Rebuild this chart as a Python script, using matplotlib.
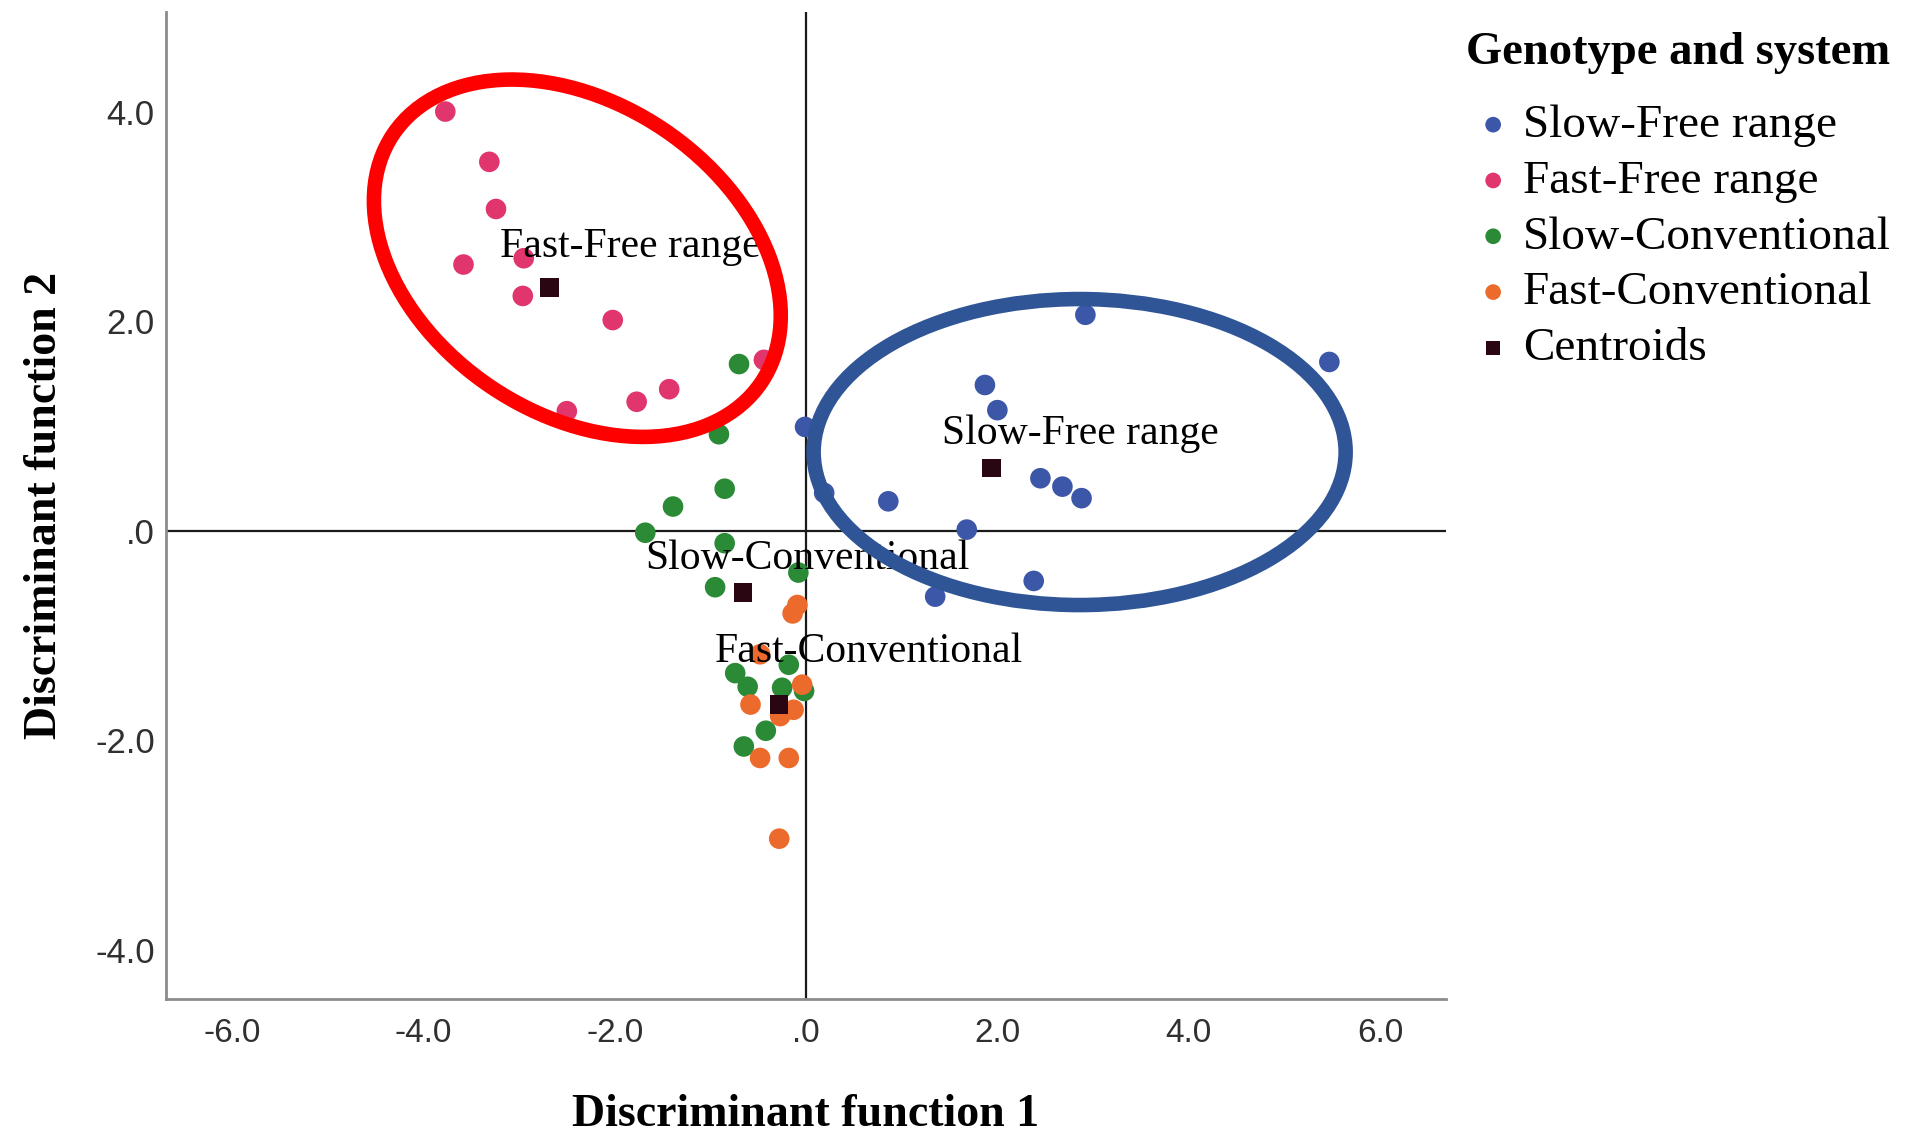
import matplotlib
matplotlib.use("Agg")
import matplotlib.pyplot as plt
import matplotlib.transforms as mtransforms
from matplotlib.patches import Ellipse

# Discriminant scores (function 1, function 2) per genotype/system group
slow_free_x = [2.92, 5.47, 1.87, 2.00, -0.01, 0.19, 0.86, 2.45, 2.68, 2.88, 1.68, 2.38, 1.35]
slow_free_y = [2.06, 1.61, 1.39, 1.15, 0.99, 0.36, 0.28, 0.50, 0.42, 0.31, 0.01, -0.48, -0.63]

fast_free_x = [-3.77, -3.31, -3.24, -3.58, -2.95, -2.96, -2.02, -1.43, -1.77, -2.50, -0.44]
fast_free_y = [4.00, 3.52, 3.07, 2.54, 2.60, 2.24, 2.01, 1.35, 1.23, 1.14, 1.63]

slow_conv_x = [-0.70, -0.91, -0.85, -1.39, -1.68, -0.85, -0.95, -0.08, -0.18, -0.74,
               -0.61, -0.25, -0.02, -0.42, -0.65]
slow_conv_y = [1.59, 0.92, 0.40, 0.23, -0.02, -0.12, -0.54, -0.40, -1.28, -1.36,
               -1.49, -1.50, -1.53, -1.91, -2.06]

fast_conv_x = [-0.09, -0.14, -0.48, -0.04, -0.58, -0.13, -0.27, -0.48, -0.18, -0.28]
fast_conv_y = [-0.71, -0.79, -1.18, -1.47, -1.66, -1.71, -1.77, -2.17, -2.17, -2.94]

group_names = ['Slow-Free range', 'Fast-Free range', 'Slow-Conventional', 'Fast-Conventional']
centroid_x = [1.94, -2.68, -0.66, -0.28]
centroid_y = [0.60, 2.32, -0.59, -1.66]

x_ticks = [-6, -4, -2, 0, 2, 4, 6]
x_tick_labels = ['-6.0', '-4.0', '-2.0', '.0', '2.0', '4.0', '6.0']
y_ticks = [-4, -2, 0, 2, 4]
y_tick_labels = ['-4.0', '-2.0', '.0', '2.0', '4.0']

colors = ['#3C56A8', '#E0356D', '#2B8A35', '#EC6A2B']
centroid_color = '#2A0612'

# where each group name is written (left edge, baseline)
label_pos = {
    'Slow-Free range': (1.42, 0.83),
    'Fast-Free range': (-3.20, 2.61),
    'Slow-Conventional': (-1.68, -0.37),
    'Fast-Conventional': (-0.95, -1.25),
}

serif = ['Liberation Serif', 'DejaVu Serif']
sans = ['Liberation Sans', 'DejaVu Sans']

fig = plt.figure(figsize=(19.05, 11.33), dpi=100)
ax = fig.add_axes([0.0871, 0.1183, 0.6720, 0.8711])

groups = [
    (slow_free_x, slow_free_y),
    (fast_free_x, fast_free_y),
    (slow_conv_x, slow_conv_y),
    (fast_conv_x, fast_conv_y),
]
for (gx, gy), name, c in zip(groups, group_names, colors):
    ax.scatter(gx, gy, s=220, color=c, edgecolors='none', label=name, zorder=3)

ax.scatter(centroid_x, centroid_y, s=175, marker='s', color=centroid_color,
           edgecolors='none', label='Centroids', zorder=4)

for name in group_names:
    lx, ly = label_pos[name]
    ax.text(lx, ly, name, fontsize=30, family=serif, ha='left', va='baseline', zorder=5)

ax.axhline(0, color='#1a1a1a', lw=1.6, zorder=2)
ax.axvline(0, color='#1a1a1a', lw=1.6, zorder=2)

ax.set_xlim(-6.69, 6.69)
ax.set_ylim(-4.47, 4.95)
ax.set_xticks(x_ticks)
ax.set_xticklabels(x_tick_labels)
ax.set_yticks(y_ticks)
ax.set_yticklabels(y_tick_labels)
ax.tick_params(axis='x', length=0, pad=14, labelsize=24, labelcolor='#303030')
ax.tick_params(axis='y', length=0, pad=8, labelsize=25, labelcolor='#303030')
for lab in ax.get_xticklabels() + ax.get_yticklabels():
    lab.set_family(sans)

for side in ['top', 'right']:
    ax.spines[side].set_visible(False)
for side in ['left', 'bottom']:
    ax.spines[side].set_color('#8c8c8c')
    ax.spines[side].set_linewidth(2)

ax.set_xlabel('Discriminant function 1', fontsize=33, fontweight='bold', family=serif)
ax.set_ylabel('Discriminant function 2', fontsize=33, fontweight='bold', family=serif)
ax.xaxis.set_label_coords(0.5, -0.096)
ax.yaxis.set_label_coords(-0.078, 0.5)

# highlight rings, sized in pixels around a data-space centre
rings = [
    ((-2.39, 2.60), 222, 155, -34, '#FF0000'),
    ((2.86, 0.75), 266, 153, 0, '#2F5597'),
]
for (cx, cy), a, b, ang, c in rings:
    trans = mtransforms.ScaledTranslation(cx, cy, ax.transData)
    ring = Ellipse((0, 0), 2 * a, 2 * b, angle=ang, transform=trans,
                   fill=False, edgecolor=c, lw=10.5, zorder=6)
    ax.add_patch(ring)

# legend: heading drawn on its own, entries below it
fig.text(1466 / 1905, 1 - 53 / 1133, 'Genotype and system', fontsize=33.5,
         fontweight='bold', family=serif, ha='left', va='center')
ax.legend(loc='upper left', bbox_to_anchor=(1466 / 1905, 1 - 104 / 1133),
          bbox_transform=fig.transFigure, frameon=False, borderpad=0,
          borderaxespad=0, prop={'family': serif, 'size': 34}, markerscale=0.76,
          handlelength=1.15, handletextpad=0.05, labelspacing=0.27)

fig.savefig('out.png', dpi=100)
